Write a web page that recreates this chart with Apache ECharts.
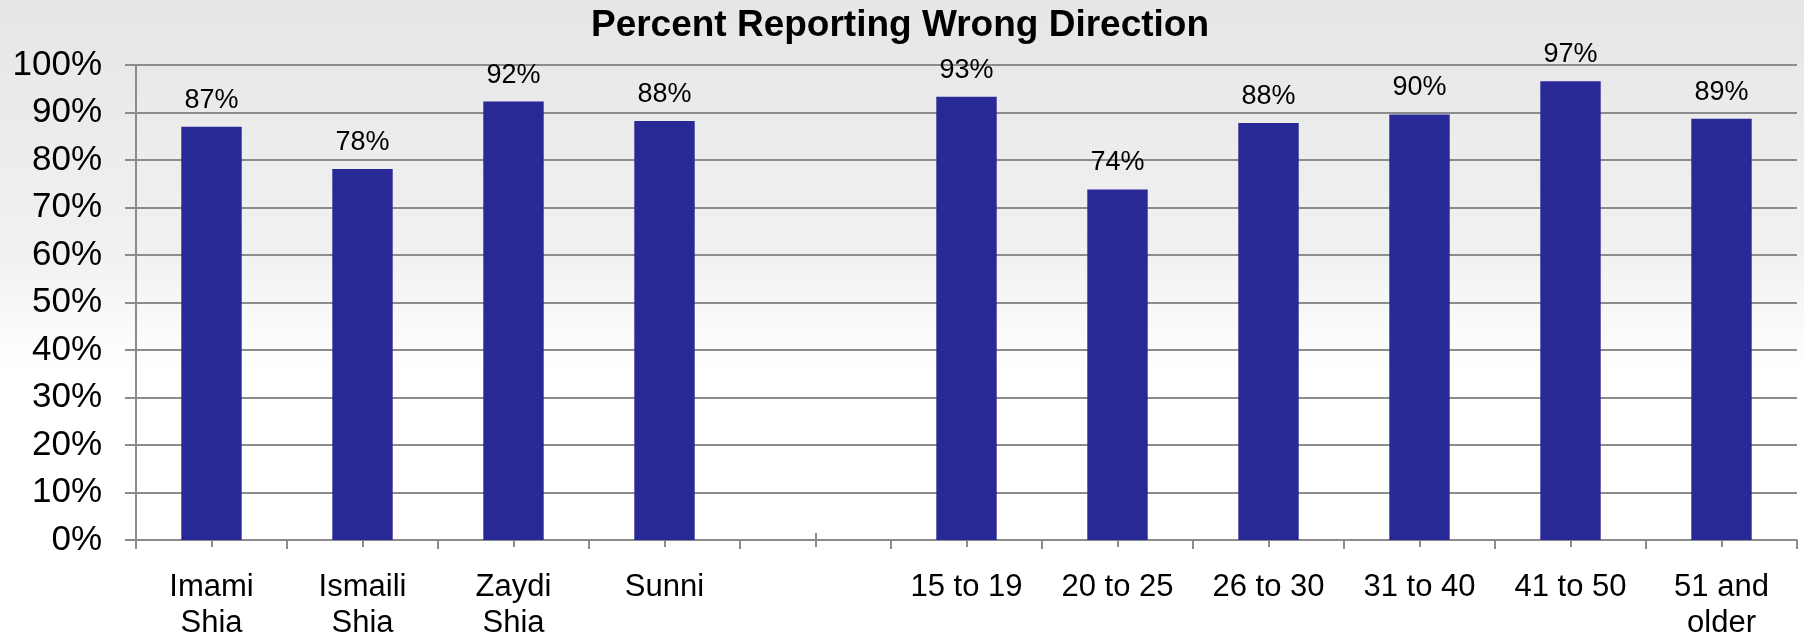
<!DOCTYPE html>
<html>
<head>
<meta charset="utf-8">
<script src="https://cdn.jsdelivr.net/npm/echarts@6/dist/echarts.min.js"></script>
<style>
  html, body { margin: 0; padding: 0; }
  #chart { width: 1804px; height: 637px; }
</style>
</head>
<body>
<div id="chart"></div>
<script>
// categories (one empty slot between the two groups)
const categories = [
  'Imami\nShia', 'Ismaili\nShia', 'Zaydi\nShia', 'Sunni', '',
  '15 to 19', '20 to 25', '26 to 30', '31 to 40', '41 to 50', '51 and\nolder'
];
// percent reporting wrong direction
const values = [87.0, 78.1, 92.3, 88.2, null, 93.3, 73.8, 87.8, 89.6, 96.6, 88.7];
const yTicks = [0, 10, 20, 30, 40, 50, 60, 70, 80, 90, 100];

const chart = echarts.init(document.getElementById('chart'));
const font = '"Liberation Sans", Arial, sans-serif';
const gray = '#8c8c8c';

// extra axes only draw the short ticks at category centres
const centreTicks = (inside) => ({
  type: 'category',
  position: 'bottom',
  data: categories,
  axisLine: { show: false },
  axisLabel: { show: false },
  splitLine: { show: false },
  axisTick: {
    show: true,
    alignWithLabel: true,
    inside: inside,
    length: 7,
    lineStyle: { color: gray, width: 2 }
  }
});

const option = {
  backgroundColor: {
    type: 'linear', x: 0, y: 0, x2: 0, y2: 1,
    colorStops: [
      { offset: 0, color: '#e7e6e7' },
      { offset: 0.4, color: '#f1f1f1' },
      { offset: 0.58, color: '#ffffff' },
      { offset: 1, color: '#ffffff' }
    ]
  },
  textStyle: { fontFamily: font },
  title: {
    text: 'Percent Reporting Wrong Direction',
    left: 895,
    textAlign: 'center',
    top: 2,
    textStyle: { fontFamily: font, fontSize: 37, fontWeight: 'bold', color: '#000' }
  },
  grid: { left: 136, right: 7, top: 65, bottom: 97, outerBoundsMode: 'none' },
  xAxis: [
    {
      type: 'category',
      position: 'bottom',
      data: categories,
      axisLine: { show: true, lineStyle: { color: gray, width: 2 } },
      axisTick: { show: true, length: 9, lineStyle: { color: gray, width: 2 } },
      axisLabel: {
        interval: 0,
        margin: 29,
        color: '#000',
        fontFamily: font,
        fontSize: 31,
        lineHeight: 36
      }
    },
    centreTicks(true),
    centreTicks(false)
  ],
  yAxis: {
    type: 'value',
    min: yTicks[0],
    max: yTicks[yTicks.length - 1],
    interval: 10,
    axisLine: { show: true, lineStyle: { color: gray, width: 2 } },
    axisTick: { show: true, length: 11, lineStyle: { color: gray, width: 2 } },
    axisLabel: {
      formatter: '{value}%',
      margin: 34,
      color: '#000',
      fontFamily: font,
      fontSize: 35
    },
    splitLine: { show: true, lineStyle: { color: gray, width: 2 } }
  },
  series: [{
    type: 'bar',
    xAxisIndex: 0,
    data: values,
    barWidth: '40%',
    itemStyle: { color: '#282897' },
    label: {
      show: true,
      position: 'top',
      distance: 13,
      color: '#000',
      fontFamily: font,
      fontSize: 27,
      formatter: (p) => Math.round(p.value) + '%'
    }
  }]
};

chart.setOption(option);
</script>
</body>
</html>
